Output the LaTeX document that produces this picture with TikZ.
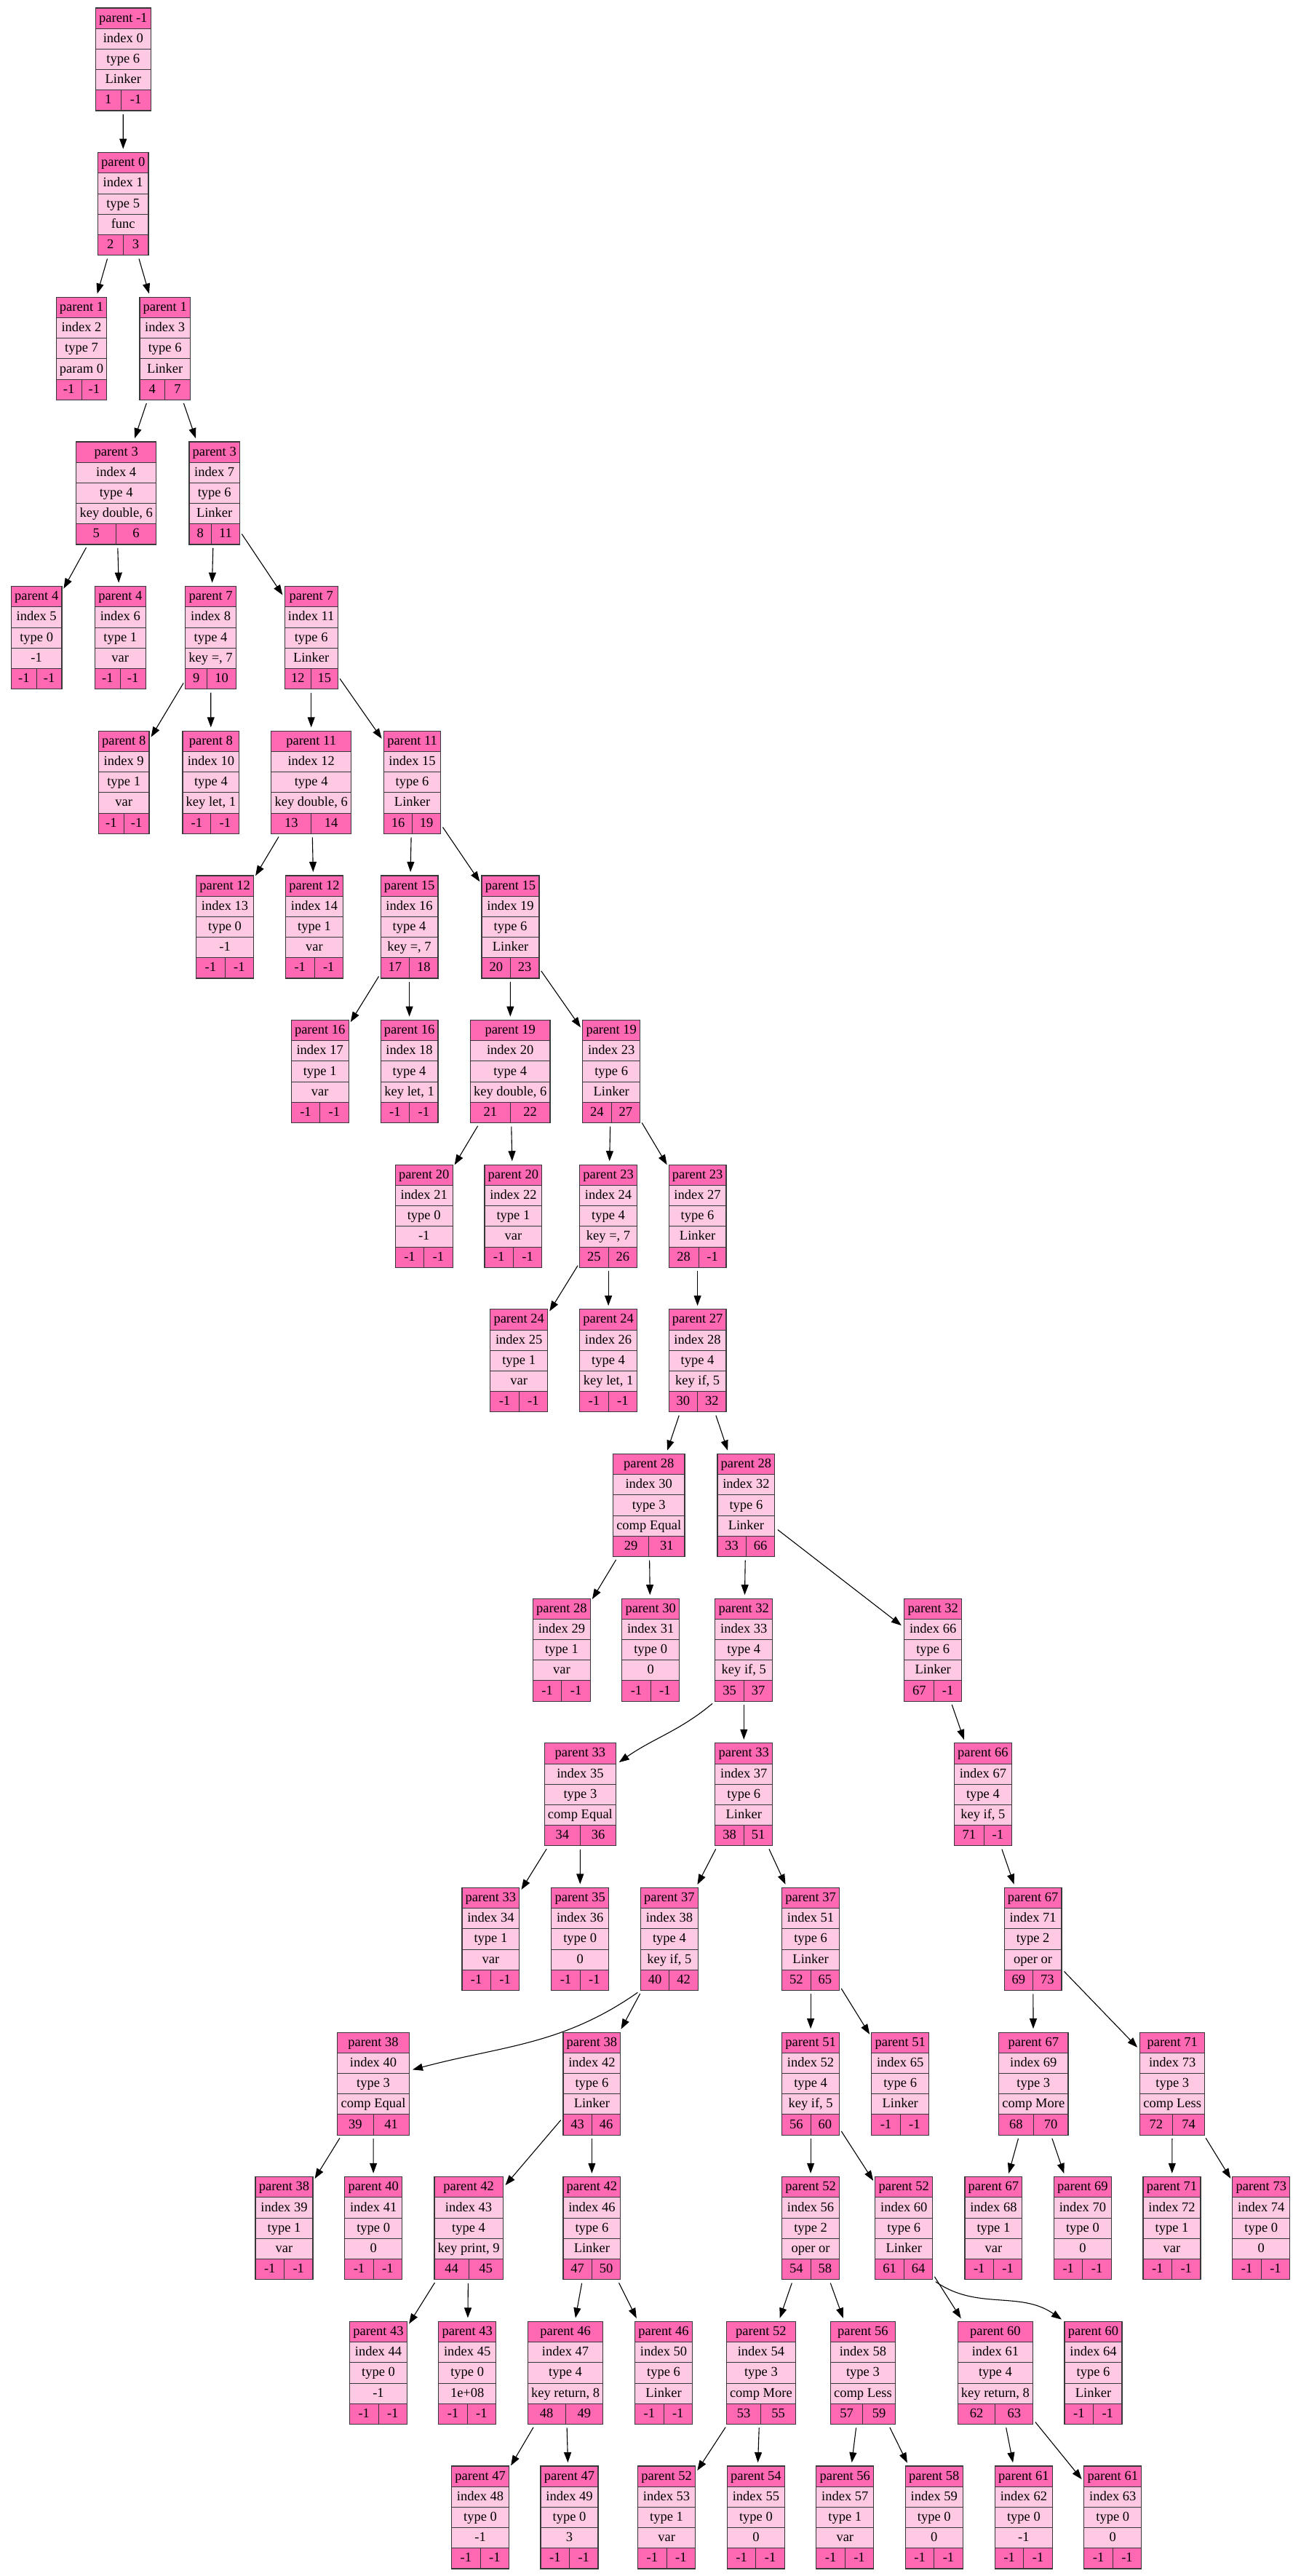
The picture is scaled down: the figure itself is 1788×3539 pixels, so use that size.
\documentclass[tikz,border=0pt]{standalone}
\usepackage{fontspec}
\setmainfont{Liberation Serif}
\usetikzlibrary{arrows.meta}
\definecolor{rechot}{HTML}{FF69B4}
\definecolor{recpale}{HTML}{FFC9E4}
\definecolor{recframe}{HTML}{383838}
\newdimen\recmax
\newdimen\recl
\newdimen\recr
\newdimen\rectmp
\newcommand{\recfont}{\fontsize{9.25}{11}\selectfont}
\newcommand{\recfit}[1]{\settowidth\rectmp{\recfont #1}\ifdim\rectmp>\recmax \global\recmax=\rectmp\fi}
\tikzset{
  recbox/.style={draw=recframe, line width=0.6pt, inner sep=0pt, outer sep=0pt, minimum height=70.5pt},
  rectext/.style={font=\recfont, inner sep=0pt, text height=7pt, text depth=2pt},
  recline/.style={draw=recframe, line width=0.5pt},
  link/.style={-{Triangle[length=7pt,width=5pt]}, line width=0.55pt, shorten <=2.5pt, shorten >=2.5pt}
}
% x, rank, parent, index, type, label, left, right
\newcommand{\recnode}[8]{%
  \pgfinterruptpicture
    \global\recmax=0pt
    \recfit{parent #3}\recfit{index #4}\recfit{type #5}\recfit{#6}%
    \global\advance\recmax by 4.75pt
    \settowidth\rectmp{\recfont #7}\global\recl=\rectmp
    \settowidth\rectmp{\recfont #8}\global\recr=\rectmp
    \rectmp=\recl \advance\rectmp by \recr \advance\rectmp by 17.6pt
    \ifdim\rectmp>\recmax \global\recmax=\rectmp\fi
  \endpgfinterruptpicture
  \pgfmathsetmacro\hw{\recmax}%
  \pgfmathsetmacro\rt{11+198.65*#2}%
  \pgfmathsetmacro\sx{#1+\recl-\recr}%
  \fill[recpale] (#1-\hw,\rt) rectangle (#1+\hw,\rt+141);
  \fill[rechot] (#1-\hw,\rt) rectangle (#1+\hw,\rt+28.2);
  \fill[rechot] (#1-\hw,\rt+112.8) rectangle (#1+\hw,\rt+141);
  \foreach \k in {1,...,4}
    \draw[recline] (#1-\hw,\rt+28.2*\k) -- (#1+\hw,\rt+28.2*\k);
  \draw[recline] (\sx,\rt+112.8) -- (\sx,\rt+141);
  \node[recbox, minimum width=\recmax] (n#4) at (#1,\rt+70.5) {};
  \node[rectext] at (#1,\rt+14.1) {parent #3};
  \node[rectext] at (#1,\rt+42.3) {index #4};
  \node[rectext] at (#1,\rt+70.5) {type #5};
  \node[rectext] at (#1,\rt+98.7) {#6};
  \node[rectext] at ({(#1-\hw+\sx)/2},\rt+126.9) {#7};
  \node[rectext] at ({(#1+\hw+\sx)/2},\rt+126.9) {#8};
}

\begin{document}
\begin{tikzpicture}[x=0.5pt, y=-0.5pt]
\useasboundingbox (0,0) rectangle (1788,3539);

\recnode{169.3}{0}{-1}{0}{6}{Linker}{1}{-1}
\recnode{169.2}{1}{0}{1}{5}{func}{2}{3}
\recnode{112}{2}{1}{2}{7}{param 0}{-1}{-1}
\recnode{226.7}{2}{1}{3}{6}{Linker}{4}{7}
\recnode{159.7}{3}{3}{4}{4}{key double, 6}{5}{6}
\recnode{294.7}{3}{3}{7}{6}{Linker}{8}{11}
\recnode{50.2}{4}{4}{5}{0}{-1}{-1}{-1}
\recnode{165.3}{4}{4}{6}{1}{var}{-1}{-1}
\recnode{289.6}{4}{7}{8}{4}{key =, 7}{9}{10}
\recnode{427.7}{4}{7}{11}{6}{Linker}{12}{15}
\recnode{170.2}{5}{8}{9}{1}{var}{-1}{-1}
\recnode{289.9}{5}{8}{10}{4}{key let, 1}{-1}{-1}
\recnode{427.7}{5}{11}{12}{4}{key double, 6}{13}{14}
\recnode{566.6}{5}{11}{15}{6}{Linker}{16}{19}
\recnode{309.1}{6}{12}{13}{0}{-1}{-1}{-1}
\recnode{432}{6}{12}{14}{1}{var}{-1}{-1}
\recnode{562.6}{6}{15}{16}{4}{key =, 7}{17}{18}
\recnode{701.5}{6}{15}{19}{6}{Linker}{20}{23}
\recnode{439.7}{7}{16}{17}{1}{var}{-1}{-1}
\recnode{562.6}{7}{16}{18}{4}{key let, 1}{-1}{-1}
\recnode{701.2}{7}{19}{20}{4}{key double, 6}{21}{22}
\recnode{840.2}{7}{19}{23}{6}{Linker}{24}{27}
\recnode{582.7}{8}{20}{21}{0}{-1}{-1}{-1}
\recnode{705.4}{8}{20}{22}{1}{var}{-1}{-1}
\recnode{836.1}{8}{23}{24}{4}{key =, 7}{25}{26}
\recnode{958.6}{8}{23}{27}{6}{Linker}{28}{-1}
\recnode{713.2}{9}{24}{25}{1}{var}{-1}{-1}
\recnode{836.1}{9}{24}{26}{4}{key let, 1}{-1}{-1}
\recnode{958.6}{9}{27}{28}{4}{key if, 5}{30}{32}
\recnode{891.7}{10}{28}{30}{3}{comp Equal}{29}{31}
\recnode{1025.4}{10}{28}{32}{6}{Linker}{33}{66}
\recnode{771.9}{11}{28}{29}{1}{var}{-1}{-1}
\recnode{894.2}{11}{30}{31}{0}{0}{-1}{-1}
\recnode{1022.3}{11}{32}{33}{4}{key if, 5}{35}{37}
\recnode{1282.2}{11}{32}{66}{6}{Linker}{67}{-1}
\recnode{797.4}{12}{33}{35}{3}{comp Equal}{34}{36}
\recnode{1022.3}{12}{33}{37}{6}{Linker}{38}{51}
\recnode{1350.9}{12}{66}{67}{4}{key if, 5}{71}{-1}
\recnode{674.4}{13}{33}{34}{1}{var}{-1}{-1}
\recnode{797.2}{13}{35}{36}{0}{0}{-1}{-1}
\recnode{919.9}{13}{37}{38}{4}{key if, 5}{40}{42}
\recnode{1114.1}{13}{37}{51}{6}{Linker}{52}{65}
\recnode{1419.6}{13}{67}{71}{2}{oper or}{69}{73}
\recnode{513}{14}{38}{40}{3}{comp Equal}{39}{41}
\recnode{813.4}{14}{38}{42}{6}{Linker}{43}{46}
\recnode{1114.1}{14}{51}{52}{4}{key if, 5}{56}{60}
\recnode{1237.2}{14}{51}{65}{6}{Linker}{-1}{-1}
\recnode{1420.3}{14}{67}{69}{3}{comp More}{68}{70}
\recnode{1611.2}{14}{71}{73}{3}{comp Less}{72}{74}
\recnode{390.5}{15}{38}{39}{1}{var}{-1}{-1}
\recnode{513.2}{15}{40}{41}{0}{0}{-1}{-1}
\recnode{644.1}{15}{42}{43}{4}{key print, 9}{44}{45}
\recnode{813.4}{15}{42}{46}{6}{Linker}{47}{50}
\recnode{1114.1}{15}{52}{56}{2}{oper or}{54}{58}
\recnode{1242.3}{15}{52}{60}{6}{Linker}{61}{64}
\recnode{1365.4}{15}{67}{68}{1}{var}{-1}{-1}
\recnode{1487.9}{15}{69}{70}{0}{0}{-1}{-1}
\recnode{1610.5}{15}{71}{72}{1}{var}{-1}{-1}
\recnode{1733.3}{15}{73}{74}{0}{0}{-1}{-1}
\recnode{520}{16}{43}{44}{0}{-1}{-1}{-1}
\recnode{642.2}{16}{43}{45}{0}{1e+08}{-1}{-1}
\recnode{777.1}{16}{46}{47}{4}{key return, 8}{48}{49}
\recnode{912}{16}{46}{50}{6}{Linker}{-1}{-1}
\recnode{1045.9}{16}{52}{54}{3}{comp More}{53}{55}
\recnode{1185.9}{16}{56}{58}{3}{comp Less}{57}{59}
\recnode{1367.9}{16}{60}{61}{4}{key return, 8}{62}{63}
\recnode{1502.5}{16}{60}{64}{6}{Linker}{-1}{-1}
\recnode{660.1}{17}{47}{48}{0}{-1}{-1}{-1}
\recnode{782.5}{17}{47}{49}{0}{3}{-1}{-1}
\recnode{916.1}{17}{52}{53}{1}{var}{-1}{-1}
\recnode{1038.9}{17}{54}{55}{0}{0}{-1}{-1}
\recnode{1161.3}{17}{56}{57}{1}{var}{-1}{-1}
\recnode{1283.8}{17}{58}{59}{0}{0}{-1}{-1}
\recnode{1406.9}{17}{61}{62}{0}{-1}{-1}{-1}
\recnode{1529.3}{17}{61}{63}{0}{0}{-1}{-1}

\foreach \a/\b in {0/1,1/2,1/3,3/4,3/7,4/5,4/6,7/8,7/11,8/9,8/10,11/12,11/15,
    12/13,12/14,15/16,15/19,16/17,16/18,19/20,19/23,20/21,20/22,23/24,23/27,
    24/25,24/26,27/28,28/30,28/32,30/29,30/31,32/33,32/66,33/37,66/67,
    35/34,35/36,37/38,37/51,67/71,38/42,51/52,51/65,71/69,71/73,40/39,40/41,
    42/43,42/46,52/56,52/60,69/68,69/70,73/72,73/74,43/44,43/45,46/47,46/50,
    56/54,56/58,60/61,47/48,47/49,54/53,54/55,58/57,58/59,61/62,61/63}
  \draw[link] (n\a) -- (n\b);
\draw[link] (n33.south west) to[out=220,in=35] (n35.40);
\draw[link] (n38.south west) to[out=215,in=15] (n40.20);
\draw[link] (n60.south east) to[out=-35,in=145] (n64.north west);
\end{tikzpicture}
\end{document}
